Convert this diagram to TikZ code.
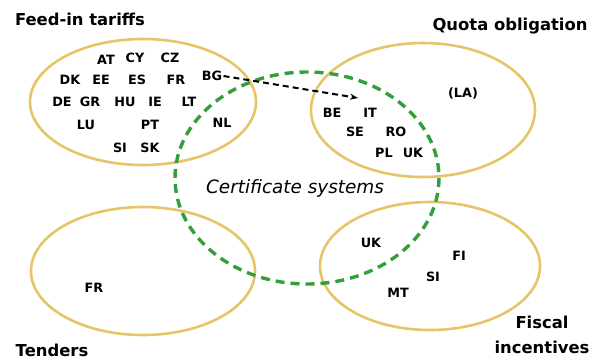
\documentclass[tikz,border=0pt]{standalone}
\usepackage{fontspec}
\setmainfont{DejaVu Sans}
\usetikzlibrary{arrows.meta}

\definecolor{schemeyellow}{RGB}{230,196,104}
\definecolor{certgreen}{RGB}{50,158,60}

\begin{document}
\begin{tikzpicture}[x=0.5pt, y=-0.5pt,
	scheme/.style={draw=schemeyellow, line width=1.3pt},
	certline/.style={draw=certgreen, line width=1.7pt, dash pattern=on 4.5pt off 3pt},
	title/.style={font=\fontsize{8.2}{12.5}\selectfont\bfseries, inner sep=0pt},
	cc/.style={font=\fontsize{6.4}{7}\selectfont\bfseries, inner sep=0.5pt}]
	\useasboundingbox (0,0) rectangle (597,360);

	% support schemes
	\draw[scheme] (143,102) ellipse (113 and 63);
	\draw[scheme] (423,110) ellipse (112 and 67);
	\draw[scheme] (143,271) ellipse (112 and 64);
	\draw[scheme] (430,266) ellipse (110 and 64);
	\draw[certline] (307,178) ellipse (132 and 106);

	\node[title] (feedin) at (80,19) {Feed-in tariffs};
	\node[title] (quota) at (510,26) {Quota obligation};
	\node[title] (tenders) at (52,350) {Tenders};
	\node[title, align=center] (fiscal) at (542,335) {Fiscal\\incentives};
	\node[font=\fontsize{9.2}{11}\selectfont\itshape] (cert) at (295,188) {Certificate systems};

	% feed-in tariffs
	\node[cc] (fit_AT) at (106,60) {AT};
	\node[cc] (fit_CY) at (135,58) {CY};
	\node[cc] (fit_CZ) at (170,58) {CZ};
	\node[cc] (fit_DK) at (70,80) {DK};
	\node[cc] (fit_EE) at (101,80) {EE};
	\node[cc] (fit_ES) at (137,80) {ES};
	\node[cc] (fit_FR) at (176,80) {FR};
	\node[cc] (fit_BG) at (212,76) {BG};
	\node[cc] (fit_DE) at (62,102) {DE};
	\node[cc] (fit_GR) at (90,102) {GR};
	\node[cc] (fit_HU) at (125,102) {HU};
	\node[cc] (fit_IE) at (155,102) {IE};
	\node[cc] (fit_LT) at (189,102) {LT};
	\node[cc] (fit_LU) at (86,125) {LU};
	\node[cc] (fit_PT) at (150,125) {PT};
	\node[cc] (fit_NL) at (222,123) {NL};
	\node[cc] (fit_SI) at (120,148) {SI};
	\node[cc] (fit_SK) at (150,148) {SK};

	% quota obligation
	\node[cc] (quo_LA) at (463,93) {(LA)};
	\node[cc] (quo_BE) at (332,113) {BE};
	\node[cc] (quo_IT) at (370,113) {IT};
	\node[cc] (quo_SE) at (355,132) {SE};
	\node[cc] (quo_RO) at (396,132) {RO};
	\node[cc] (quo_PL) at (384,153) {PL};
	\node[cc] (quo_UK) at (413,153) {UK};

	% tenders
	\node[cc] (ten_FR) at (94,288) {FR};

	% fiscal incentives
	\node[cc] (fis_UK) at (371,243) {UK};
	\node[cc] (fis_FI) at (459,256) {FI};
	\node[cc] (fis_SI) at (433,277) {SI};
	\node[cc] (fis_MT) at (398,293) {MT};

	\coordinate (move) at (358,98);
	\draw[-{Stealth[length=4pt]}, line width=1pt, dash pattern=on 3pt off 2pt] (fit_BG.east) -- (move);
\end{tikzpicture}
\end{document}
